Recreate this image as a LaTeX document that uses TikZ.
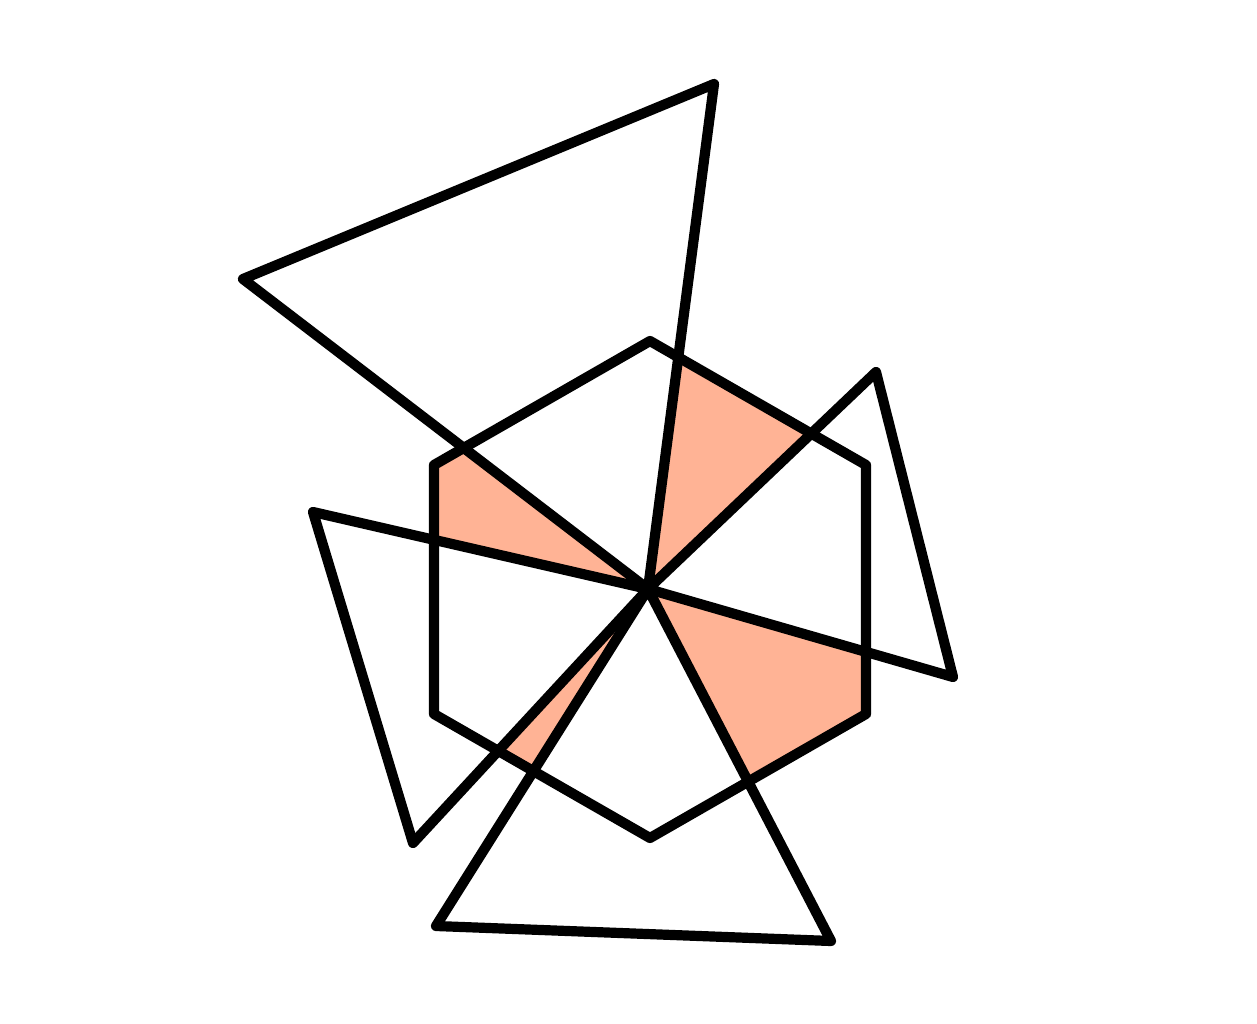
\documentclass[tikz,border=0pt]{standalone}
\definecolor{wedge}{RGB}{255,179,149}
\tikzset{edge/.style={line width=2.9pt, line join=round, line cap=round}}
\begin{document}
\begin{tikzpicture}[x=0.01cm, y=-0.01cm]
	\useasboundingbox (0,0) rectangle (1257,1024);
	% centre and hexagon
	\coordinate (p) at (648,589);
	\coordinate (h1) at (650,341);
	\coordinate (h2) at (866,465);
	\coordinate (h3) at (866,714);
	\coordinate (h4) at (650,838);
	\coordinate (h5) at (434,714);
	\coordinate (h6) at (434,465);
	% outer triangle corners
	\coordinate (t1) at (714,84);
	\coordinate (t2) at (243,279);
	\coordinate (l1) at (313,512);
	\coordinate (l2) at (413,843);
	\coordinate (b1) at (436,926);
	\coordinate (b2) at (831,941);
	\coordinate (r1) at (953,677);
	\coordinate (r2) at (876,372);
	\fill[wedge] (h1) -- (h2) -- (h3) -- (h4) -- (h5) -- (h6) -- cycle;
	\fill[white] (p) -- (t1) -- (t2) -- cycle;
	\fill[white] (p) -- (l1) -- (l2) -- cycle;
	\fill[white] (p) -- (b1) -- (b2) -- cycle;
	\fill[white] (p) -- (r1) -- (r2) -- cycle;
	\draw[edge] (h1) -- (h2) -- (h3) -- (h4) -- (h5) -- (h6) -- cycle;
	\draw[edge] (p) -- (t1) -- (t2) -- cycle;
	\draw[edge] (p) -- (l1) -- (l2) -- cycle;
	\draw[edge] (p) -- (b1) -- (b2) -- cycle;
	\draw[edge] (p) -- (r1) -- (r2) -- cycle;
\end{tikzpicture}
\end{document}
